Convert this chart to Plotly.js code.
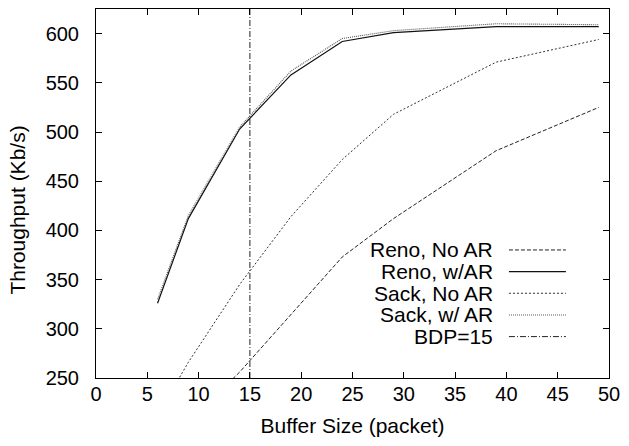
<!DOCTYPE html>
<html>
<head>
<meta charset="utf-8">
<script src="https://cdn.plot.ly/plotly-3.0.1.min.js"></script>
<style>
  html, body { margin: 0; padding: 0; background: #fff; }
  #chart { width: 629px; height: 446px; }
</style>
</head>
<body>
<div id="chart"></div>
<script>
// Buffer sizes (packets) at which throughput was measured
const bufferSize = [6, 9, 14, 19, 24, 29, 39, 49];

// Throughput (Kb/s) per variant
const renoNoAR = [170, 205, 256, 315, 373, 412, 481, 525];
const renoWithAR = [326, 412, 503, 558, 592, 601, 607, 607];
const sackNoAR = [212, 266, 345, 414, 472, 518, 571, 594];
const sackWithAR = [330, 415, 505, 562, 595, 603, 610, 609];

// Bandwidth-delay product marker
const bdp = 15;
const bdpSpan = [250, 625];

const seriesNames = ['Reno, No AR', 'Reno, w/AR', 'Sack, No AR', 'Sack, w/ AR', 'BDP=15'];

const styles = [
  { color: '#222', width: 1, dash: '4px,2px' },
  { color: '#111', width: 1.2, dash: 'solid' },
  { color: '#333', width: 1, dash: '2px,2px' },
  { color: '#555', width: 1.1, dash: '1px,1px' },
  { color: '#222', width: 1, dash: '6px,2px,1px,2px' }
];

const seriesValues = [renoNoAR, renoWithAR, sackNoAR, sackWithAR];

const traces = seriesValues.map((vals, i) => ({
  x: bufferSize,
  y: vals,
  name: seriesNames[i],
  mode: 'lines',
  line: styles[i],
  hoverinfo: 'x+y+name'
}));

traces.push({
  x: [bdp, bdp],
  y: bdpSpan,
  name: seriesNames[4],
  mode: 'lines',
  line: styles[4]
});

const textFont = { family: 'Liberation Sans, Arial, sans-serif', size: 21, color: '#000' };

// gnuplot-style key: label on the left, line sample on the right
const keyTextX = 0.778;
const keySampleX0 = 0.805;
const keySampleX1 = 0.916;
const keyTop = 0.347;
const keyStep = 0.0587;

const annotations = seriesNames.map((name, i) => ({
  xref: 'paper', yref: 'paper',
  x: keyTextX, y: keyTop - i * keyStep,
  xanchor: 'right', yanchor: 'middle',
  text: name, showarrow: false,
  font: textFont
}));

annotations.push({
  xref: 'paper', yref: 'paper',
  x: -0.153, y: 0.455,
  xanchor: 'center', yanchor: 'middle',
  textangle: -90,
  text: 'Throughput (Kb/s)', showarrow: false,
  font: textFont
});

const shapes = styles.map((st, i) => ({
  type: 'line', xref: 'paper', yref: 'paper',
  x0: keySampleX0, x1: keySampleX1,
  y0: keyTop - i * keyStep, y1: keyTop - i * keyStep,
  line: { color: st.color, width: st.width, dash: st.dash }
}));

const axisCommon = {
  showgrid: false,
  zeroline: false,
  showline: true,
  linecolor: '#000',
  linewidth: 1,
  mirror: 'ticks',
  ticks: 'inside',
  ticklen: 6,
  tickcolor: '#000',
  tickfont: { family: 'Liberation Sans, Arial, sans-serif', size: 20, color: '#000' }
};

const layout = {
  width: 629,
  height: 446,
  margin: { l: 96, r: 20, t: 9, b: 68 },
  paper_bgcolor: '#fff',
  plot_bgcolor: '#fff',
  showlegend: false,
  xaxis: Object.assign({}, axisCommon, {
    range: [0, 50],
    tick0: 0, dtick: 5,
    ticklabelstandoff: -2,
    title: { text: 'Buffer Size (packet)', standoff: 14, font: textFont }
  }),
  yaxis: Object.assign({}, axisCommon, {
    range: [250, 625],
    tick0: 250, dtick: 50,
    ticklabelstandoff: 12
  }),
  annotations: annotations,
  shapes: shapes
};

Plotly.newPlot('chart', traces, layout, { displayModeBar: false, staticPlot: true });
</script>
</body>
</html>
